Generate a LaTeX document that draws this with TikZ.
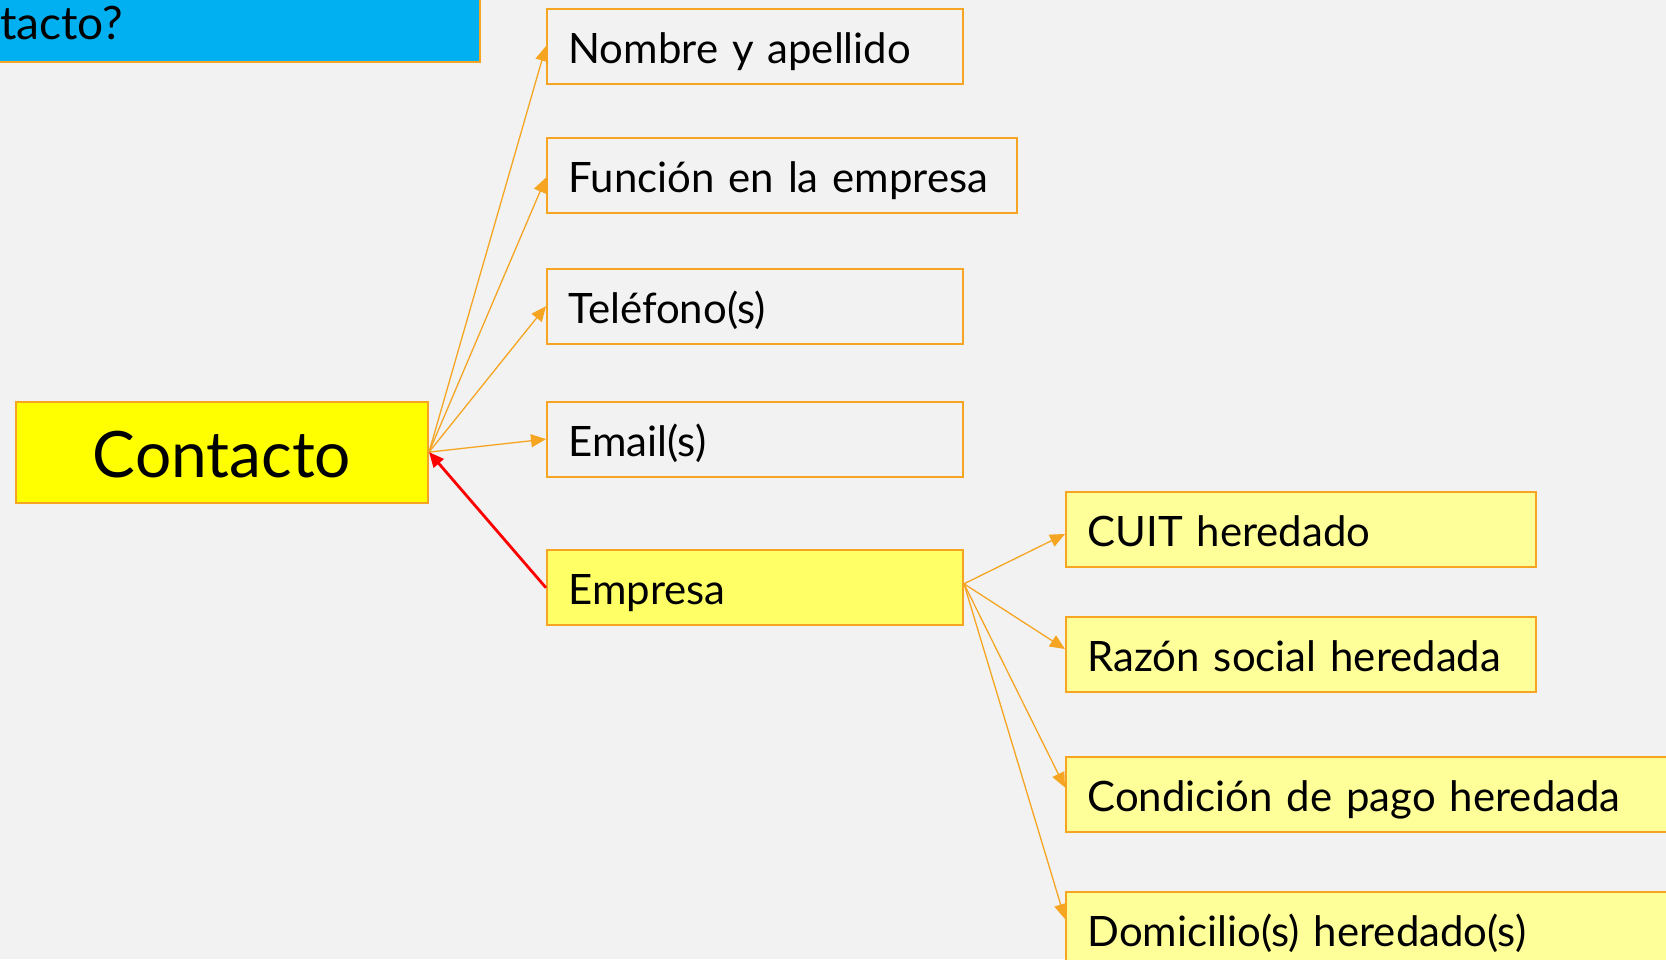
\documentclass[tikz,border=0pt]{standalone}
\usepackage{fontspec}
\setmainfont{Lato}
\usetikzlibrary{arrows.meta}
\definecolor{bg}{HTML}{F2F2F2}
\definecolor{bord}{RGB}{246,165,35}
\definecolor{titleblue}{HTML}{00B0F0}
\definecolor{lightyel}{HTML}{FFFF99}
\definecolor{empyel}{HTML}{FFFF66}
\definecolor{mainyel}{HTML}{FFFF00}
\definecolor{redarr}{HTML}{FF0000}
\tikzset{
  box/.style={draw=bord, line width=2pt, rectangle, anchor=north west,
    inner xsep=21.5pt, inner ysep=0pt, align=left,
    text height=54.5pt, text depth=20.5pt,
    font=\fontsize{41.9}{50}\selectfont},
  conn/.style={draw=bord, line width=1.3pt, -{Triangle[length=15pt,width=13pt]}},
  redconn/.style={draw=redarr, line width=2.8pt, -{Triangle[length=15pt,width=13pt]}},
}
\begin{document}
\begin{tikzpicture}[x=1pt,y=-1pt]
\useasboundingbox (0,0) rectangle (1666,959);
\clip (0,0) rectangle (1666,959);
\fill[bg] (0,0) rectangle (1666,959);
% title bar
\draw[fill=titleblue, draw=bord, line width=2pt] (-10,-10) rectangle (480,62);
\node[anchor=base west, inner sep=0pt, font=\fontsize{46}{54}\selectfont] (title) at (0,39) {tacto?};
% main node
\node[draw=bord, fill=mainyel, line width=2pt, anchor=north west, minimum width=412pt,
      inner sep=0pt, text height=75.5pt, text depth=25.5pt,
      font=\fontsize{64}{76}\selectfont] (contacto) at (15,400.6) {Contacto};
% left column
\node[box, text width=373pt] (nombre) at (546,7.5) {Nombre y apellido};
\node[box, text width=427pt] (funcion) at (546,137) {Función en la empresa};
\node[box, text width=373pt] (telefono) at (546,267.7) {Teléfono(s)};
\node[box, text width=373pt] (email) at (546,400.6) {Email(s)};
\node[box, fill=empyel, text width=373pt] (empresa) at (546,549.3) {Empresa};
% right column
\node[box, fill=lightyel, text width=427pt] (cuit) at (1065,491) {CUIT heredado};
\node[box, fill=lightyel, text width=427pt] (razon) at (1065,615.5) {Razón social heredada};
\node[box, fill=lightyel, text width=657pt] (condicion) at (1065,756) {Condición de pago heredada};
\node[box, fill=lightyel, text width=657pt] (domicilio) at (1065,890.5) {Domicilio(s) heredado(s)};
% connectors
\draw[conn] (contacto.east) -- (nombre.west);
\draw[conn] (contacto.east) -- ([yshift=-2pt]funcion.west);
\draw[conn] (contacto.east) -- (telefono.west);
\draw[conn] (contacto.east) -- (email.west);
\draw[redconn] (empresa.west) -- (contacto.east);
\draw[conn] ([yshift=4pt]empresa.east) -- ([yshift=-4.5pt]cuit.west);
\draw[conn] ([yshift=4pt]empresa.east) -- ([yshift=5pt]razon.west);
\draw[conn] ([yshift=4pt]empresa.east) -- ([yshift=7pt]condicion.west);
\draw[conn] ([yshift=4pt]empresa.east) -- ([yshift=10pt]domicilio.west);
\end{tikzpicture}
\end{document}
